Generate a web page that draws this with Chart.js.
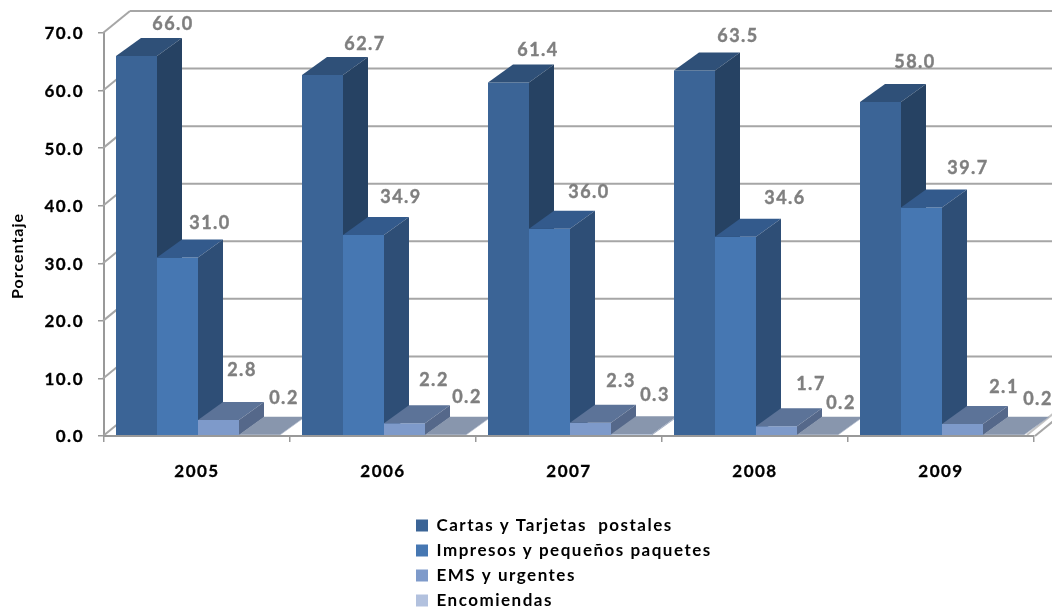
<!DOCTYPE html>
<html><head><meta charset="utf-8">
<style>html,body{margin:0;padding:0;background:#fff}#w{width:1052px;height:608px}</style>
<script src="https://cdn.jsdelivr.net/npm/chart.js@4"></script></head>
<body><div id="w"><canvas id="c" width="1052" height="608"></canvas></div>
<script>
const categories = ['2005','2006','2007','2008','2009'];
const seriesNames = ['Cartas y Tarjetas  postales','Impresos y pequeños paquetes','EMS y urgentes','Encomiendas'];
const cartas = [66.0,62.7,61.4,63.5,58.0];
const impresos = [31.0,34.9,36.0,34.6,39.7];
const ems = [2.8,2.2,2.3,1.7,2.1];
const encomiendas = [0.2,0.2,0.3,0.2,0.2];
const yAxisTitle = 'Porcentaje';

// styling
const frontColors = ['#3B6496','#4677B2','#7E9ACA','#B2C1DE'];
const topColors = ['#2F5078','#335A8C','#5C7398','#8896AD'];
const sideColors = ['#264263','#2E4E76','#55688A','#9AA6BC'];
const gridColor = '#A6A6A6';
const depthX = 25, depthY = -18, wallX = 27, wallY = -22, barShift = 1;
// hand-placed data-label offsets from the top centre of each bar's front face
const labelDx = [[36.5,42.5,29.5,43.5,34.5],[32.5,37.5,39.5,49.5,46.5],[23.5,29.5,30.5,34.5,41.5],[24.5,21.5,23.5,23.5,34.5]];
const labelDy = [[-32,-31,-32,-34.5,-39.5],[-34,-38,-37,-39,-39.7],[-50,-43,-42,-42,-37],[-37,-38,-39,-32,-36]];
const FONT = 'Lato, Carlito, sans-serif';

function poly(ctx, pts, fill){
  ctx.beginPath();
  pts.forEach((p,i)=> i?ctx.lineTo(p[0],p[1]):ctx.moveTo(p[0],p[1]));
  ctx.closePath(); ctx.fillStyle=fill; ctx.fill();
}
function line(ctx,x1,y1,x2,y2){ctx.beginPath();ctx.moveTo(x1,y1);ctx.lineTo(x2,y2);ctx.stroke();}

const bars3d = {
  id:'bars3d',
  beforeLayout(chart){
    const lg = chart.legend;
    if(lg && !lg._patched){
      const fit = lg.fit.bind(lg);
      lg.fit = function(){ fit(); this.width = 0; };
      lg._patched = true;
    }
  },
  afterLayout(chart){
    const lg = chart.legend;
    lg.left = 408; lg.right = 740; lg.width = 332;
    lg.top = 509; lg.bottom = 900; lg.height = 391;
  },
  beforeDraw(chart){ chart.ctx.letterSpacing = '1.5px'; },
  beforeDatasetsDraw(chart){
    const ctx = chart.ctx, a = chart.chartArea, ys = chart.scales.y;
    ctx.save();
    ctx.strokeStyle = gridColor; ctx.lineWidth = 2;
    ys.ticks.forEach(t=>{
      const y = ys.getPixelForValue(t.value);
      line(ctx, a.left-1, y, a.left-1+wallX, y+wallY);
      if(t.value>0) line(ctx, a.left-1+wallX, y+wallY, 1060, y+wallY);
    });
    // right floor edge (double line)
    line(ctx, a.right+1, a.bottom, a.right+1+wallX, a.bottom+wallY);
    ctx.strokeStyle = '#C4C4C4';
    line(ctx, a.right-7, a.bottom-1, a.right-7+wallX, a.bottom-1+wallY);

    const metas = chart.data.datasets.map((d,i)=>chart.getDatasetMeta(i));
    categories.forEach((c,ci)=>{
      metas.forEach((m,si)=>{
        const el = m.data[ci];
        const w = el.width, x0 = el.x - w/2 + barShift, x1 = x0 + w, yt = el.y, yb = el.base;
        poly(ctx, [[x0,yb],[x1,yb],[x1,yt],[x0,yt]], frontColors[si]);
        poly(ctx, [[x0,yt],[x1,yt],[x1+depthX,yt+depthY],[x0+depthX,yt+depthY]], topColors[si]);
        poly(ctx, [[x1,yb],[x1+depthX,yb+depthY],[x1+depthX,yt+depthY],[x1,yt]], sideColors[si]);
      });
    });
    ctx.fillStyle = '#7F7F7F'; ctx.strokeStyle = '#7F7F7F'; ctx.lineWidth = 0.4;
    ctx.font = 'bold 18px '+FONT;
    ctx.textAlign='center'; ctx.textBaseline='middle';
    metas.forEach((m,si)=>{
      m.data.forEach((el,ci)=>{
        const v = chart.data.datasets[si].data[ci];
        const tx = el.x+barShift+labelDx[si][ci], ty = el.y+labelDy[si][ci];
        ctx.fillText(v.toFixed(1), tx, ty);
        ctx.strokeText(v.toFixed(1), tx, ty);
      });
    });
    ctx.save();
    ctx.translate(18,256); ctx.rotate(-Math.PI/2);
    ctx.fillStyle='#000'; ctx.font='bold 16px '+FONT; ctx.letterSpacing='1px';
    ctx.fillText(yAxisTitle,0,0);
    ctx.restore();
    ctx.restore();
    return false;
  }
};

Chart.defaults.font.family = FONT;
new Chart(document.getElementById('c'),{
  type:'bar',
  data:{labels:categories,datasets:[
    {label:seriesNames[0],data:cartas,backgroundColor:frontColors[0]},
    {label:seriesNames[1],data:impresos,backgroundColor:frontColors[1]},
    {label:seriesNames[2],data:ems,backgroundColor:frontColors[2]},
    {label:seriesNames[3],data:encomiendas,backgroundColor:frontColors[3]}
  ]},
  options:{
    responsive:false,animation:false,devicePixelRatio:1,
    events:[],
    layout:{padding:{left:0,right:18,top:33,bottom:0}},
    datasets:{bar:{barPercentage:1,categoryPercentage:164/186,borderWidth:0}},
    plugins:{
      tooltip:{enabled:false},
      legend:{display:true,position:'right',align:'start',
        labels:{boxWidth:12,boxHeight:12,padding:8,color:'#000',font:{family:FONT,size:17,weight:'bold'}}}
    },
    scales:{
      x:{
        afterFit(s){s.height=172;},
        grid:{drawOnChartArea:false,tickLength:6,color:'#999',lineWidth:1.5,offset:true},
        border:{color:'#999',width:2,z:1},
        ticks:{color:'#000',padding:19,maxRotation:0,textStrokeColor:'#000',textStrokeWidth:0.3,font:{size:17,weight:'bold'}}
      },
      y:{
        min:0,max:70,
        afterFit(s){s.width=104;},
        grid:{drawOnChartArea:false,tickLength:6,color:'#999',lineWidth:1.5},
        border:{color:'#999',width:2},
        ticks:{stepSize:10,color:'#000',padding:14,labelOffset:1,textStrokeColor:'#000',textStrokeWidth:0.3,font:{size:17,weight:'bold'},callback:v=>v.toFixed(1)}
      }
    }
  },
  plugins:[bars3d]
});
</script></body></html>
